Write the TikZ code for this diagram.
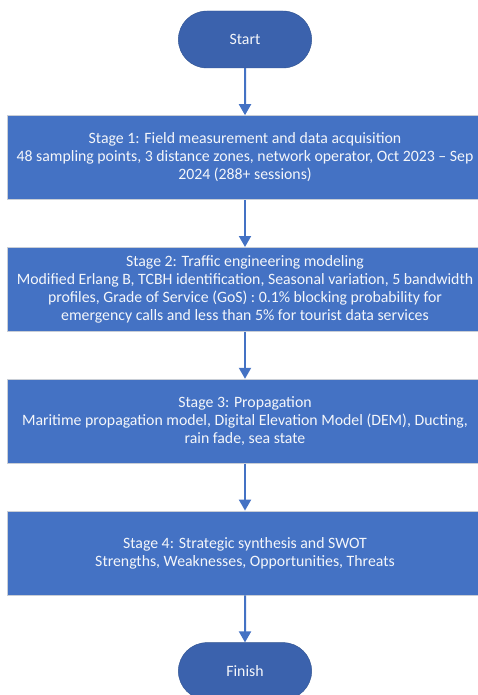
\documentclass[tikz,border=0pt]{standalone}
\usepackage{fontspec}
\setmainfont{Carlito}
\usetikzlibrary{positioning,arrows.meta,shapes.misc}
\definecolor{stageblue}{HTML}{4472C4}
\definecolor{pillblue}{HTML}{3B62AD}
\definecolor{pilledge}{HTML}{2F528F}
\definecolor{boxedge}{HTML}{C9CED6}
\definecolor{txtwhite}{HTML}{F4F6FA}

\begin{document}
\begin{tikzpicture}[auto,
    node distance=47pt,
    terminal/.style ={rounded rectangle, draw=pilledge, fill=pillblue, text=txtwhite,
       minimum width=140pt, minimum height=57pt, font=\fontsize{15.8}{18}\selectfont},
    stage/.style ={rectangle, draw=boxedge, line width=0.8pt, fill=stageblue, text=txtwhite,
       minimum width=475pt, minimum height=84pt, align=center, inner sep=0pt,
       font=\fontsize{15.8}{18}\selectfont},
    flow/.style ={draw=stageblue, line width=2pt, -{Triangle[length=11pt,width=12pt]}}]
   \useasboundingbox (0,0) rectangle (478pt,-695pt);
   \node[terminal] (A) at (245pt,-39.5pt) {Start};
   \node[stage, below=of A] (B) {Stage 1: Field measurement and data acquisition\\
      48 sampling points, 3 distance zones, network operator, Oct 2023 -- Sep\\
      2024 (288+ sessions)};
   \node[stage, below=of B] (C) {Stage 2: Traffic engineering modeling\\
      Modified Erlang B, TCBH identification, Seasonal variation, 5 bandwidth\\
      profiles, Grade of Service (GoS) : 0.1\% blocking probability for\\
      emergency calls and less than 5\% for tourist data services};
   \node[stage, below=of C] (D) {Stage 3: Propagation\\
      Maritime propagation model, Digital Elevation Model (DEM), Ducting,\\
      rain fade, sea state};
   \node[stage, below=of D] (E) {Stage 4: Strategic synthesis and SWOT\\
      Strengths, Weaknesses, Opportunities, Threats};
   \node[terminal, below=of E] (F) {Finish};
   \draw[flow] (A) to (B);
   \draw[flow] (B) to (C);
   \draw[flow] (C) to (D);
   \draw[flow] (D) to (E);
   \draw[flow] (E) to (F);
 \end{tikzpicture}
\end{document}
